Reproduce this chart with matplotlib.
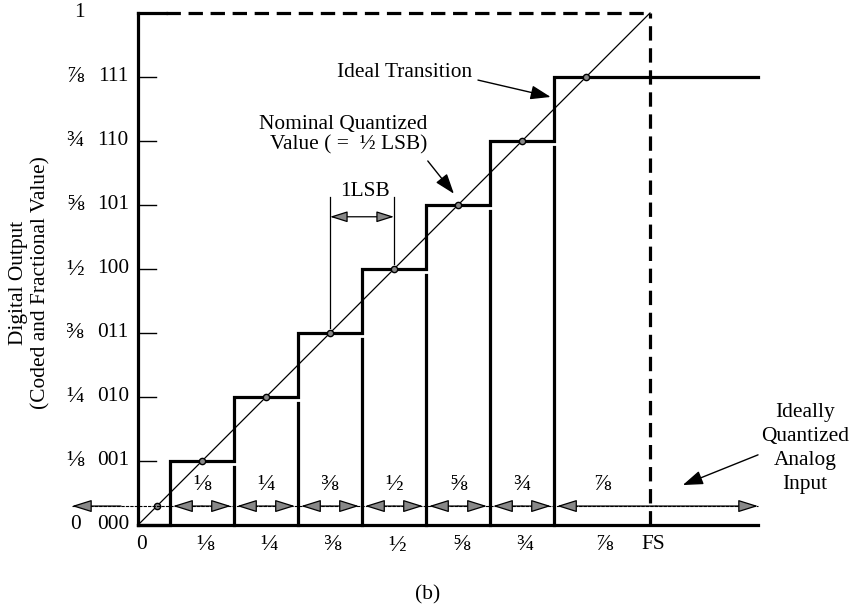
import numpy as np
import matplotlib
matplotlib.use("Agg")
import matplotlib.pyplot as plt

plt.rcParams['font.family'] = ['Liberation Serif', 'DejaVu Serif']
plt.rcParams['font.size'] = 15.4

# 3-bit ideal ADC transfer characteristic
codes = ['000', '001', '010', '011', '100', '101', '110', '111']
frac_labels = ['0', '⅛', '¼', '⅜', '½', '⅝', '¾', '⅞']
levels = [0, 1/8, 2/8, 3/8, 4/8, 5/8, 6/8, 7/8]
transitions = [1/16, 3/16, 5/16, 7/16, 9/16, 11/16, 13/16]
x_end = 1.211          # step and axis run past FS
fs = 1.0

interval_labels = ['⅛', '¼', '⅜', '½', '⅝', '¾', '⅞']
xtick_pos = [0, 1/8, 2/8, 3/8, 4/8, 5/8, 6/8, 0.905, 1.0]
xtick_labels = ['0', '⅛', '¼', '⅜', '½', '⅝', '¾', '⅞', 'FS']

arrow_row = 0.037
arrow_left = -0.129
frac_size = 17

fig = plt.figure(figsize=(8.5, 6.07), dpi=100)
ax = fig.add_axes([0, 0, 1, 1])
ax.set_xlim(-0.26953, 1.39063)
ax.set_ylim(-0.16016, 1.02539)
ax.axis('off')

lw_thick = 2.3
lw_thin = 0.9

# axes frame
ax.plot([0, 0], [0, 1], color='k', lw=lw_thick, solid_capstyle='projecting')
ax.plot([0, x_end], [0, 0], color='k', lw=lw_thick)
ax.plot([0, 0.055], [1, 1], color='k', lw=lw_thick)
ax.plot([0.055, fs], [1, 1], color='k', lw=lw_thick, dashes=(4.5, 2.4))
ax.plot([fs, fs], [0, 1], color='k', lw=lw_thick, dashes=(4.5, 2.4))

# y ticks inside
for lv in levels[1:]:
    ax.plot([0, 0.036], [lv, lv], color='k', lw=1.0)

# staircase
sx = [0]
sy = [0]
for i, t in enumerate(transitions):
    sx += [t, t]
    sy += [levels[i], levels[i + 1]]
sx.append(x_end)
sy.append(levels[-1])
ax.plot(sx, sy, color='k', lw=lw_thick, solid_joinstyle='miter')

# lower vertical lines at transitions
gap = 0.011
for i, t in enumerate(transitions[1:]):
    ax.plot([t, t], [0, levels[i + 1] - gap], color='k', lw=lw_thick)

# ideal straight line
ax.plot([0, fs], [0, fs], color='k', lw=lw_thin)

# nominal quantized values
ax.plot(levels[1:], levels[1:], 'o', ms=4.5, mfc='#888888', mec='k', mew=1.0)
ax.plot([arrow_row], [arrow_row], 'o', ms=4.5, mfc='#888888', mec='k', mew=1.0)

# analog input arrow row
ax.plot([arrow_left, x_end], [arrow_row, arrow_row], color='k', lw=0.8, ls=(0, (3, 1)))
aprops = dict(arrowstyle='-|>,head_length=0.8,head_width=0.25', color='k', lw=0.9,
              fc='#888888', shrinkA=0, shrinkB=0)
bounds = [arrow_left] + transitions + [x_end]
for i in range(len(bounds) - 1):
    a, b = bounds[i], bounds[i + 1]
    pad = 0.006
    mid = (a + b) / 2
    if i > 0:
        ax.annotate('', xy=(a + pad, arrow_row), xytext=(mid, arrow_row), arrowprops=aprops)
        if i < len(bounds) - 2:
            ax.annotate('', xy=(b - pad, arrow_row), xytext=(mid, arrow_row), arrowprops=aprops)
        else:
            ax.annotate('', xy=(b, arrow_row), xytext=(mid, arrow_row), arrowprops=aprops)
    else:
        ax.annotate('', xy=(a, arrow_row), xytext=(mid, arrow_row), arrowprops=aprops)

# interval labels
mids = [(transitions[i] + transitions[i + 1]) / 2 for i in range(len(transitions) - 1)]
mids.append((transitions[-1] + fs) / 2)
for m, lab in zip(mids, interval_labels):
    ax.text(m, 0.080, lab, ha='center', va='center', fontsize=frac_size)

# x tick labels
for p, lab in zip(xtick_pos, xtick_labels):
    fsz = 15.4 if lab in ('0', 'FS') else frac_size
    ax.text(p + 0.006, -0.039, lab, ha='center', va='center', fontsize=fsz)

# y tick labels
for lv, fl, c in zip(levels, frac_labels, codes):
    fsz = 15.4 if fl == '0' else frac_size
    ax.text(-0.123, lv, fl, ha='center', va='center', fontsize=fsz)
    ax.text(-0.049, lv, c, ha='center', va='center')
ax.text(-0.115, 1.0, '1', ha='center', va='center')

ax.text(-0.211, 0.473, 'Digital Output\n(Coded and Fractional Value)',
        rotation=90, ha='center', va='center', multialignment='center')

# annotations
ax.text(0.521, 0.883, 'Ideal Transition', ha='center', va='center')
ax.annotate('', xy=(0.806, 0.836), xytext=(0.664, 0.869),
            arrowprops=dict(arrowstyle='-|>,head_length=0.8,head_width=0.28',
                            color='k', lw=1.0, shrinkA=0, shrinkB=0))

ax.text(0.566, 0.762, 'Nominal Quantized\nValue ( =  ½ LSB)', ha='right', va='center',
        multialignment='right', linespacing=1.1)
ax.annotate('', xy=(0.617, 0.647), xytext=(0.566, 0.711),
            arrowprops=dict(arrowstyle='-|>,head_length=0.8,head_width=0.28',
                            color='k', lw=1.0, shrinkA=0, shrinkB=0))

ax.text(0.443, 0.652, '1LSB', ha='center', va='center')
ax.plot([3/8, 3/8], [0.641, 3/8 + 0.01], color='k', lw=lw_thin)
ax.plot([4/8, 4/8], [0.641, 4/8 + 0.01], color='k', lw=lw_thin)
ax.annotate('', xy=(3/8, 0.602), xytext=(4/8, 0.602),
            arrowprops=dict(arrowstyle='<|-|>,head_length=0.7,head_width=0.22',
                            color='k', lw=0.9, fc='#888888', shrinkA=0, shrinkB=0))

ax.text(1.303, 0.150, 'Ideally\nQuantized\nAnalog\nInput', ha='center', va='center',
        multialignment='center', linespacing=1.35)
ax.annotate('', xy=(1.064, 0.078), xytext=(1.211, 0.137),
            arrowprops=dict(arrowstyle='-|>,head_length=0.8,head_width=0.28',
                            color='k', lw=1.0, shrinkA=0, shrinkB=0))

ax.text(0.566, -0.137, '(b)', ha='center', va='center')

fig.savefig('out.png', dpi=100)
